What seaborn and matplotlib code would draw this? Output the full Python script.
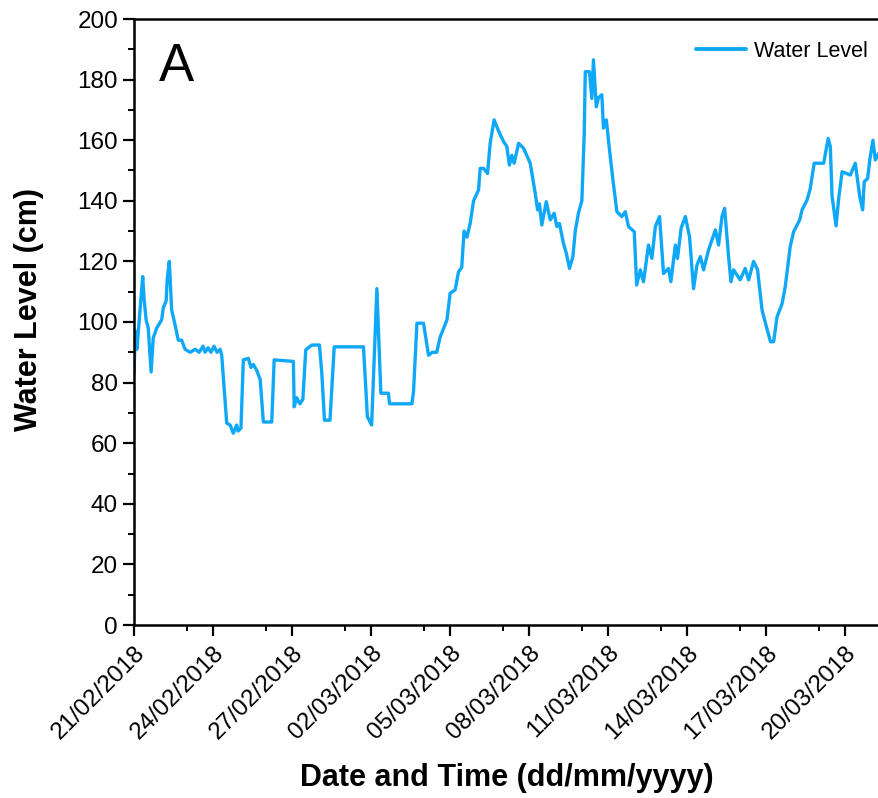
import numpy as np
import pandas as pd
import matplotlib
matplotlib.use("Agg")
import matplotlib.pyplot as plt
import matplotlib.dates as mdates
import seaborn as sns

# ---- data: days elapsed since 21/02/2018 00:00 and water level (cm) ----
start_date = "2018-02-21"
days = [0.00, 0.05, 0.11, 0.33, 0.38, 0.46, 0.54, 0.65, 0.73, 0.86, 1.05, 1.11, 1.22, 1.26, 1.34,
        1.43, 1.56, 1.68, 1.81, 1.94, 2.13, 2.32, 2.47, 2.62, 2.70, 2.81, 2.92, 3.04, 3.15, 3.27,
        3.33, 3.52, 3.65, 3.77, 3.90, 3.95, 4.06, 4.15, 4.34, 4.44, 4.53, 4.66, 4.79, 4.91, 5.23,
        5.32, 6.05, 6.08, 6.18, 6.30, 6.41, 6.52, 6.75, 7.04, 7.13, 7.23, 7.44, 7.60, 8.71, 8.86,
        9.02, 9.22, 9.37, 9.66, 9.70, 10.55, 10.61, 10.74, 10.99, 11.18, 11.32, 11.49, 11.62, 11.88,
        12.00, 12.19, 12.32, 12.44, 12.53, 12.64, 12.76, 12.89, 13.08, 13.14, 13.27, 13.42, 13.52,
        13.67, 13.84, 14.03, 14.15, 14.25, 14.34, 14.43, 14.60, 14.79, 15.04, 15.23, 15.32, 15.39,
        15.48, 15.65, 15.80, 15.95, 16.05, 16.15, 16.30, 16.41, 16.53, 16.66, 16.75, 16.87, 17.00,
        17.09, 17.13, 17.29, 17.38, 17.44, 17.55, 17.63, 17.76, 17.82, 17.93, 18.05, 18.18, 18.33,
        18.52, 18.65, 18.77, 18.99, 19.08, 19.22, 19.34, 19.53, 19.66, 19.79, 19.95, 20.10, 20.29,
        20.38, 20.55, 20.63, 20.77, 20.93, 21.09, 21.24, 21.37, 21.50, 21.62, 21.81, 22.07, 22.19,
        22.32, 22.42, 22.57, 22.66, 22.76, 23.01, 23.20, 23.33, 23.52, 23.67, 23.84, 23.97, 24.16,
        24.28, 24.41, 24.60, 24.72, 24.91, 25.04, 25.27, 25.36, 25.55, 25.67, 25.82, 26.18, 26.35,
        26.43, 26.50, 26.65, 26.75, 26.88, 27.19, 27.38, 27.55, 27.66, 27.72, 27.85, 27.93, 28.05,
        28.14, 28.30]
water_level = [83, 97, 91, 115, 108, 100.7, 98, 83.5, 94.7, 98, 100.7, 104.6, 107, 114, 120,
               104, 99, 94, 94, 91, 90, 91, 90, 92, 90, 91.5, 90, 92, 90, 91,
               89, 66.6, 66, 63.3, 66, 64, 65, 87.5, 88, 85, 86, 84, 81, 67, 67,
               87.5, 87, 72, 75, 73, 74.5, 90.8, 92.4, 92.4, 83, 67.6, 67.6, 91.8, 91.8, 68.7,
               66, 111, 76.5, 76.5, 73, 73, 77, 99.6, 99.6, 89, 90, 90, 95, 100.7,
               109.5, 110.6, 116.6, 118, 130, 128, 132.5, 140, 143.6, 150.7, 150.7, 149, 159,
               166.7, 163, 159.5, 158, 151.8, 155, 152.4, 159, 157.3, 152.4, 142.5, 137, 139,
               132, 139.7, 133.7, 135.9, 131.5, 132.5, 126, 122.7, 117.7, 121.6, 130, 135.9, 140,
               162, 182.6, 182.6, 173.8, 186.5, 171, 174, 175, 164, 166.7, 156.8, 146.9, 136.4,
               134.8, 136.4, 131.5, 129.8, 112.2, 117.2, 113.3, 125.4, 121, 131.5, 134.8, 116, 117.7,
               113.3, 125.4, 121, 131, 134.8, 128, 111, 118.8, 121.6, 117.2, 123.8, 130.4, 125.4,
               134.8, 137.5, 121.6, 113.3, 117.2, 113.9, 117.7, 113.9, 120, 117.2, 104, 99.6, 93.5,
               93.5, 101.7, 106, 111.6, 124.9, 129.8, 133.7, 137, 140.3, 144, 152.4, 152.4, 160.6,
               158, 141.4, 131.7, 140.8, 149.6, 148.5, 152.4, 141.4, 137, 146.3, 147.4, 153.5, 160,
               153.5, 156.2]
series_name = "Water Level"
x_label = "Date and Time (dd/mm/yyyy)"
y_label = "Water Level (cm)"
panel_label = "A"
tick_step_days = 3
x_end_days = 28.28

t0 = pd.Timestamp(start_date)
df = pd.DataFrame({
    "time": t0 + pd.to_timedelta(days, unit="D"),
    "level": water_level,
    "series": series_name,
})

sns.set_theme(style="ticks")
plt.rcParams["font.family"] = ["Liberation Sans", "DejaVu Sans"]
plt.rcParams["text.color"] = "black"
plt.rcParams["axes.labelcolor"] = "black"

fig = plt.figure(figsize=(8.79, 7.98), dpi=100)
ax = fig.add_axes([134 / 879, 1 - 625 / 798, (879 - 134) / 879, (625 - 19) / 798])

line_color = "#0FA8F7"
sns.lineplot(data=df, x="time", y="level", hue="series", palette=[line_color],
             estimator=None, sort=False, linewidth=2.4, ax=ax)

ax.set_xlim(t0, t0 + pd.Timedelta(days=x_end_days))
ax.set_ylim(0, 200)

major = [t0 + pd.Timedelta(days=d) for d in np.arange(0, x_end_days, tick_step_days)]
minor = [t0 + pd.Timedelta(days=d + 2) for d in np.arange(0, x_end_days, tick_step_days)
         if d + 2 < x_end_days]
ax.set_xticks(major)
ax.set_xticks(minor, minor=True)
ax.xaxis.set_major_formatter(mdates.DateFormatter("%d/%m/%Y"))
ax.set_yticks(np.arange(0, 201, 20))
ax.set_yticks(np.arange(10, 200, 20), minor=True)

ax.tick_params(axis="both", which="major", direction="out", length=8, width=1.6,
               labelsize=17.5, color="black", labelcolor="black")
ax.tick_params(axis="both", which="minor", direction="out", length=4, width=1.4, color="black")
ax.tick_params(axis="x", which="major", pad=4)

for lab in ax.get_xticklabels():
    lab.set_rotation(45)
    lab.set_ha("right")
    lab.set_rotation_mode("anchor")

for s in ["left", "bottom", "top"]:
    ax.spines[s].set_linewidth(1.8)
    ax.spines[s].set_color("black")
ax.spines["right"].set_visible(False)

ax.set_xlabel(x_label, fontsize=22, fontweight="bold", labelpad=14, color="black")
ax.set_ylabel(y_label, fontsize=22, fontweight="bold", color="black")
ax.yaxis.set_label_coords(-0.121, 0.52)

ax.text(0.033, 0.92, panel_label, transform=ax.transAxes, fontsize=38,
        ha="left", va="center", color="black")

leg = ax.legend(loc="upper right", frameon=False, fontsize=15.5, handlelength=2.3,
                handletextpad=0.35, borderaxespad=0.0, bbox_to_anchor=(0.996, 0.978))
for h in leg.get_lines():
    h.set_linewidth(2.8)
for t in leg.get_texts():
    t.set_color("black")

fig.savefig("out.png", dpi=100)
